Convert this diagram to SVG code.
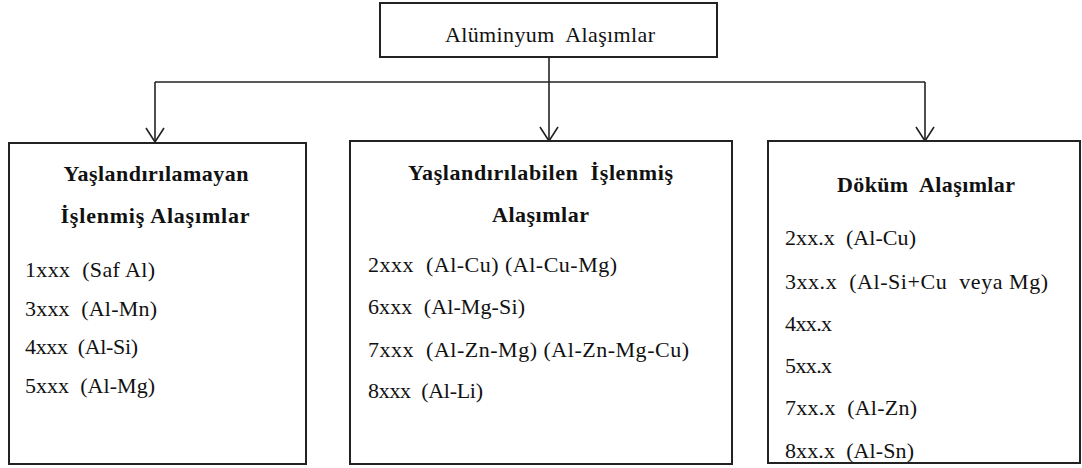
<svg xmlns="http://www.w3.org/2000/svg" width="1082" height="468" viewBox="0 0 1082 468">
<style>
.box{fill:#fff;stroke:#222;stroke-width:2}
.t{font-family:'Liberation Serif','Times New Roman',serif;font-size:22px;fill:#111}
.h{font-family:'Liberation Serif','Times New Roman',serif;font-size:22px;font-weight:bold;fill:#111;text-anchor:middle}
.c{fill:none;stroke:#222;stroke-width:1.6}
</style>
<defs>
<marker id="arr" viewBox="0 0 16 20" refX="15" refY="10" markerWidth="16" markerHeight="20" markerUnits="userSpaceOnUse" orient="auto">
<path d="M1,1 L15,10 L1,19" fill="none" stroke="#222" stroke-width="1.6"/>
</marker>
</defs>
<rect width="1082" height="468" fill="#fff"/>
<g id="connectors">
<line class="c" x1="549" y1="57" x2="549" y2="82"/>
<line class="c" x1="155" y1="82" x2="925" y2="82"/>
<path class="c" d="M155,82 V142" marker-end="url(#arr)"/>
<path class="c" d="M549,82 V141" marker-end="url(#arr)"/>
<path class="c" d="M925,82 V141" marker-end="url(#arr)"/>
</g>
<g id="root">
<rect class="box" x="380" y="3" width="337" height="54"/>
<text class="t" x="550" y="42" text-anchor="middle" xml:space="preserve" textLength="210" lengthAdjust="spacing">Alüminyum  Alaşımlar</text>
</g>
<g id="node-yaslandirilamayan">
<rect class="box" x="9" y="143" width="297" height="321"/>
<text class="h" x="156" y="181" textLength="185" lengthAdjust="spacing">Yaşlandırılamayan</text>
<text class="h" x="155" y="223" textLength="189" lengthAdjust="spacing">İşlenmiş Alaşımlar</text>
<text class="t" x="25" y="277" xml:space="preserve" textLength="130" lengthAdjust="spacing">1xxx  (Saf Al)</text>
<text class="t" x="25" y="315.5" xml:space="preserve" textLength="132" lengthAdjust="spacing">3xxx  (Al-Mn)</text>
<text class="t" x="25" y="354" xml:space="preserve" textLength="113" lengthAdjust="spacing">4xxx  (Al-Si)</text>
<text class="t" x="25" y="392.5" xml:space="preserve" textLength="130" lengthAdjust="spacing">5xxx  (Al-Mg)</text>
</g>
<g id="node-yaslandirilabilen">
<rect class="box" x="350" y="141" width="382" height="323"/>
<text class="h" x="540.5" y="180" xml:space="preserve" textLength="265" lengthAdjust="spacing">Yaşlandırılabilen  İşlenmiş</text>
<text class="h" x="540.5" y="222" textLength="97" lengthAdjust="spacing">Alaşımlar</text>
<text class="t" x="368" y="272" xml:space="preserve" textLength="249" lengthAdjust="spacing">2xxx  (Al-Cu) (Al-Cu-Mg)</text>
<text class="t" x="368" y="314" xml:space="preserve" textLength="157" lengthAdjust="spacing">6xxx  (Al-Mg-Si)</text>
<text class="t" x="368" y="357" xml:space="preserve" textLength="321" lengthAdjust="spacing">7xxx  (Al-Zn-Mg) (Al-Zn-Mg-Cu)</text>
<text class="t" x="368" y="398" xml:space="preserve" textLength="115" lengthAdjust="spacing">8xxx  (Al-Li)</text>
</g>
<g id="node-dokum">
<rect class="box" x="768" y="141" width="312" height="322"/>
<text class="h" x="926" y="192" xml:space="preserve" textLength="178" lengthAdjust="spacing">Döküm  Alaşımlar</text>
<text class="t" x="785" y="245" xml:space="preserve" textLength="131" lengthAdjust="spacing">2xx.x  (Al-Cu)</text>
<text class="t" x="785" y="289" xml:space="preserve" textLength="263" lengthAdjust="spacing">3xx.x  (Al-Si+Cu  veya Mg)</text>
<text class="t" x="785" y="331" xml:space="preserve" textLength="47" lengthAdjust="spacing">4xx.x</text>
<text class="t" x="785" y="373" xml:space="preserve" textLength="47" lengthAdjust="spacing">5xx.x</text>
<text class="t" x="785" y="415" xml:space="preserve" textLength="132" lengthAdjust="spacing">7xx.x  (Al-Zn)</text>
<text class="t" x="785" y="458" xml:space="preserve" textLength="129" lengthAdjust="spacing">8xx.x  (Al-Sn)</text>
</g>
</svg>
